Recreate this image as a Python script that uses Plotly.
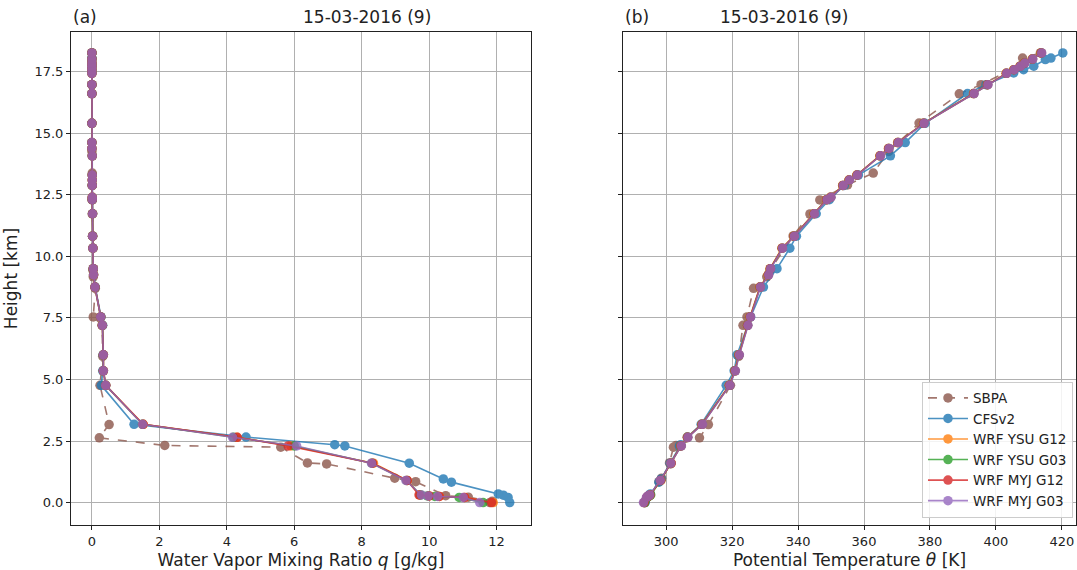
import plotly.graph_objects as go

# ---------------- data ----------------
# SBPA radiosonde
h_sbpa = [0.0, 0.05, 0.22, 0.28, 0.85, 0.99, 1.57, 1.61, 2.25, 2.32, 2.63, 3.17, 4.76, 5.94, 7.2,
          7.54, 8.7, 9.17, 9.44, 10.83, 11.72, 12.29, 12.9, 13.38, 14.26, 15.41, 16.6, 16.97,
          17.85, 18.05, 18.26]
q_sbpa = [11.8, 11.87, 11.16, 10.49, 9.60, 8.98, 6.96, 6.39, 5.60, 2.16, 0.22, 0.51, 0.24, 0.32, 0.30,
          0.04, 0.10, 0.04, 0.03, 0.02, 0.01, 0.01, 0.01, 0.01, 0.0, 0.0, 0.0, 0.0,
          0.0, 0.0, 0.0]
th_sbpa = [293.4, 293.6, 294.3, 294.8, 297.8, 298.6, 301.3, 301.0, 302.2, 303.0, 310.1, 312.8, 319.5,
           322.0, 323.3, 324.5, 326.5, 330.5, 331.5, 338.5, 343.6, 346.6, 355.0, 362.8, 367.5,
           376.7, 388.9, 395.5, 408.5, 408.1, 413.5]

# CFSv2
h_cfs = [0.0, 0.21, 0.30, 0.35, 0.83, 0.96, 1.6, 2.30, 2.35, 2.66, 3.18, 4.76, 5.35, 6.0, 7.2, 7.54,
         8.75, 9.5, 10.33, 10.82, 11.73, 12.3, 12.88, 13.3, 14.08, 14.62, 15.4, 16.61, 16.97,
         17.45, 17.58, 17.72, 17.99, 18.05, 18.26]
q_cfs = [12.39, 12.34, 12.2, 12.05, 10.66, 10.42, 9.41, 7.50, 7.20, 4.57, 1.25, 0.28, 0.32, 0.33, 0.32,
         0.27, 0.10, 0.04, 0.03, 0.02, 0.02, 0.01, 0.01, 0.01, 0.01, 0.0, 0.0, 0.0, 0.0,
         0.0, 0.0, 0.0, 0.0, 0.0, 0.0]
th_cfs = [293.6, 294.2, 294.8, 295.2, 297.8, 298.5, 301.2, 304.0, 304.4, 306.4, 310.6, 318.2, 320.6,
          321.5, 324.6, 325.6, 329.5, 333.6, 337.5, 339.5, 345.5, 349.5, 354.0, 358.3, 368.0,
          372.5, 378.5, 391.4, 397.0, 405.4, 408.4, 411.5, 415.0, 416.7, 420.3]

# WRF runs (shared vertical levels)
h_wrf = [0.0, 0.21, 0.25, 0.27, 0.31, 0.9, 1.6, 2.3, 2.65, 3.18, 4.76, 5.35, 6.0, 7.2, 7.54, 8.75,
         9.25, 9.5, 10.33, 10.82, 11.73, 12.3, 12.4, 12.88, 13.1, 13.3, 14.08, 14.38, 14.62, 15.4,
         16.61, 16.97, 17.43, 17.58, 17.72, 17.85, 18.01, 18.26]
q_upper = [0.41, 0.34, 0.34, 0.31, 0.26, 0.09, 0.05, 0.04, 0.03, 0.02, 0.02, 0.01, 0.01, 0.01, 0.01,
           0.01, 0.01, 0.0, 0.0, 0.0, 0.0, 0.0, 0.0, 0.0, 0.0, 0.0, 0.0, 0.0]
q_ysu_g12 = [11.9, 11.05, 10.3, 10.0, 9.72, 9.35, 8.35, 5.90, 4.30, 1.52] + q_upper
q_ysu_g03 = [11.6, 10.89, 10.17, 9.95, 9.75, 9.33, 8.30, 6.00, 4.20, 1.50] + q_upper
q_myj_g12 = [11.85, 11.05, 10.3, 10.0, 9.70, 9.35, 8.32, 5.82, 4.31, 1.52] + q_upper
q_myj_g03 = [11.5, 11.01, 10.25, 9.97, 9.77, 9.31, 8.29, 6.07, 4.17, 1.50] + q_upper

th_myj_g03 = [293.1, 294.0, 294.3, 294.6, 295.0, 298.2, 301.4, 304.6, 306.6, 311.0, 319.3, 321.0,
              322.2, 324.8, 325.6, 328.6, 331.1, 331.7, 335.3, 338.9, 345.0, 348.8, 350.0, 353.7,
              355.6, 358.0, 365.0, 367.6, 370.4, 378.2, 393.4, 397.6, 403.3, 405.6, 407.5, 408.8,
              411.2, 413.9]
th_myj_g12 = [293.3, 294.1, 294.4, 294.7, 295.1, 298.3, 301.5, 304.5, 306.5, 310.9, 319.2, 320.9,
              322.1, 324.7, 325.5, 328.5, 331.0, 331.6, 335.2, 338.8, 344.9, 348.7, 349.9, 353.6,
              355.5, 357.9, 364.9, 367.5, 370.3, 378.1, 393.3, 397.5, 403.2, 405.5, 407.4, 408.7,
              411.1, 413.8]
th_ysu_g12 = [293.4, 294.2, 294.5, 294.8, 295.2, 298.4, 301.5, 304.4, 306.4, 310.8, 319.1, 320.8,
              322.0, 324.6, 325.4, 328.4, 330.9, 331.5, 335.1, 338.7, 344.8, 348.6, 349.8, 353.5,
              355.4, 357.8, 364.8, 367.4, 370.2, 378.0, 393.2, 397.4, 403.1, 405.4, 407.3, 408.6,
              411.0, 413.7]
th_ysu_g03 = [293.5, 294.3, 294.6, 294.9, 295.3, 298.3, 301.4, 304.5, 306.5, 310.9, 319.2, 320.9,
              322.1, 324.7, 325.5, 328.5, 331.0, 331.6, 335.2, 338.8, 344.9, 348.7, 349.9, 353.6,
              355.5, 357.9, 364.9, 367.5, 370.3, 378.1, 393.3, 397.5, 403.2, 405.5, 407.4, 408.7,
              411.1, 413.8]

title_text = "15-03-2016 (9)"
y_ticks = [0.0, 2.5, 5.0, 7.5, 10.0, 12.5, 15.0, 17.5]

series = [
    ("SBPA", "#8c564b", "dash", h_sbpa, q_sbpa, th_sbpa),
    ("CFSv2", "#1f77b4", "solid", h_cfs, q_cfs, th_cfs),
    ("WRF YSU G12", "#ff7f0e", "solid", h_wrf, q_ysu_g12, th_ysu_g12),
    ("WRF YSU G03", "#2ca02c", "solid", h_wrf, q_ysu_g03, th_ysu_g03),
    ("WRF MYJ G12", "#d62728", "solid", h_wrf, q_myj_g12, th_myj_g12),
    ("WRF MYJ G03", "#9467bd", "solid", h_wrf, q_myj_g03, th_myj_g03),
]

FONT = "DejaVu Sans"
fig = go.Figure()
for name, color, dash, h, q, th in series:
    common = dict(mode="lines+markers", name=name, opacity=0.8,
                  line=dict(color=color, width=1.6, dash=dash),
                  marker=dict(color=color, size=9.5))
    fig.add_trace(go.Scatter(x=q, y=h, xaxis="x", yaxis="y", showlegend=False, **common))
    fig.add_trace(go.Scatter(x=th, y=h, xaxis="x2", yaxis="y2", showlegend=True, **common))

W = 1077 - 71 - 1
da = (531 - 71) / W
db = (623 - 71) / W

axis_common = dict(showgrid=True, gridcolor="#b0b0b0", gridwidth=1, zeroline=False,
                   showline=True, linecolor="#222", linewidth=1, mirror=True,
                   ticks="outside", ticklen=4, tickcolor="#222",
                   tickfont=dict(family=FONT, size=13, color="#222"))

fig.update_layout(
    width=1077, height=570,
    margin=dict(l=71, r=1, t=32, b=45),
    paper_bgcolor="white", plot_bgcolor="white",
    font=dict(family=FONT, color="#222"),
    xaxis=dict(domain=[0, da], range=[-0.62, 13.02], tickvals=[0, 2, 4, 6, 8, 10, 12],
               title=dict(text="Water Vapor Mixing Ratio <i>q</i> [g/kg]", font=dict(size=17), standoff=6),
               anchor="y", **axis_common),
    yaxis=dict(domain=[0, 1], range=[-0.91, 19.11], tickvals=y_ticks, tickformat=".1f",
               title=dict(text="Height [km]", font=dict(size=17), standoff=12),
               anchor="x", **axis_common),
    xaxis2=dict(domain=[db, 1], range=[286.9, 424.3], tickvals=[300, 320, 340, 360, 380, 400, 420],
                title=dict(text="Potential Temperature <i>θ</i> [K]", font=dict(size=17), standoff=6),
                anchor="y2", **axis_common),
    yaxis2=dict(domain=[0, 1], range=[-0.91, 19.11], tickvals=y_ticks, showticklabels=False,
                anchor="x2", **axis_common),
    legend=dict(x=0.997, y=0.015, xanchor="right", yanchor="bottom",
                bgcolor="rgba(255,255,255,0.85)", bordercolor="#cccccc", borderwidth=1,
                font=dict(family=FONT, size=13.5), tracegroupgap=0, itemwidth=40),
    annotations=[
        dict(text=title_text, x=da / 2, xref="paper", y=1.0, yref="paper", yanchor="bottom",
             yshift=3, showarrow=False, font=dict(family=FONT, size=17)),
        dict(text="(a)", x=0, xref="paper", xanchor="left", y=1.0, yref="paper", yanchor="bottom",
             yshift=3, showarrow=False, font=dict(family=FONT, size=17)),
        dict(text=title_text, x=(db + 1) / 2, xref="paper", y=1.0, yref="paper", yanchor="bottom",
             yshift=3, showarrow=False, font=dict(family=FONT, size=17)),
        dict(text="(b)", x=db, xref="paper", xanchor="left", y=1.0, yref="paper", yanchor="bottom",
             yshift=3, showarrow=False, font=dict(family=FONT, size=17)),
    ],
)

fig.write_html("out.html", config={"displayModeBar": False},
               post_script="document.body.style.margin='0px';")
